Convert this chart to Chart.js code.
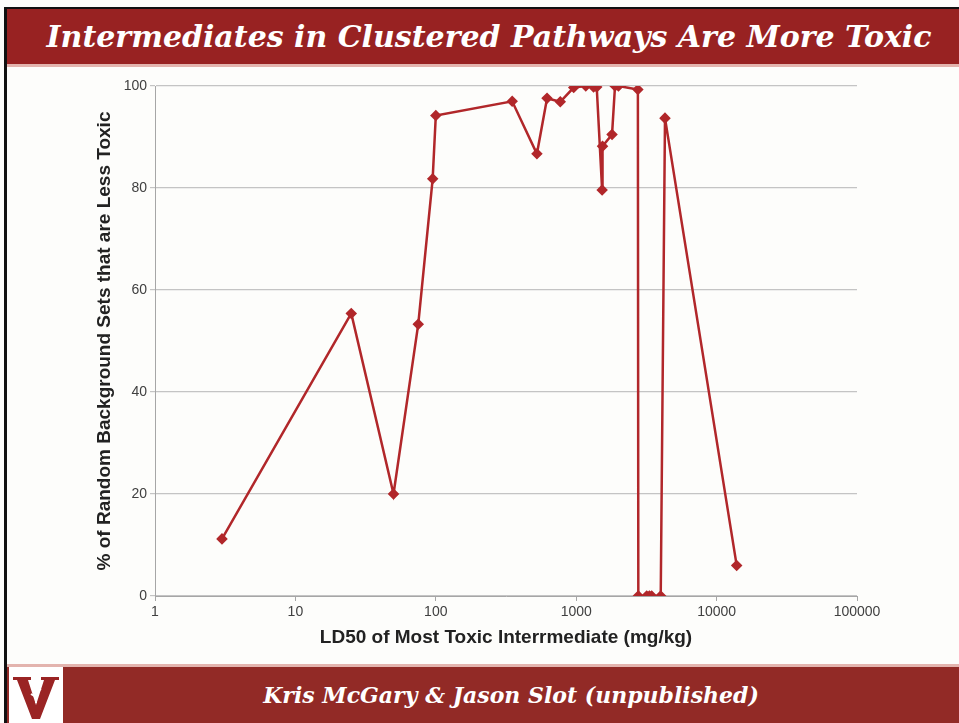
<!DOCTYPE html>
<html>
<head>
<meta charset="utf-8">
<script src="https://cdn.jsdelivr.net/npm/chart.js@4/dist/chart.umd.min.js"></script>
<style>
  html, body { margin: 0; padding: 0; background: #fdfdfb; }
  #page { position: relative; width: 959px; height: 723px; overflow: hidden; background: #fdfdfb; }
  #topline { position: absolute; left: 4px; top: 7px; width: 955px; height: 2px; background: #111; }
  #leftline { position: absolute; left: 4px; top: 7px; width: 3px; height: 716px; background: #111; }
  #titlebar { position: absolute; left: 7px; top: 9px; width: 952px; height: 55px; background: #982222;
    border-bottom: 3px solid #e3b4ae; }
  #titlebar h1 { margin: 0; padding-left: 12px; color: #fff; font-family: "DejaVu Serif", serif; font-weight: bold; font-style: italic;
    font-size: 30px; line-height: 55px; text-align: center; white-space: nowrap; }
  #footbar { position: absolute; left: 7px; top: 664px; width: 952px; height: 59px; border-top: 3px solid #e3b4ae;
    background: #922a26; box-sizing: border-box; }
  #footbar p { position: absolute; left: 56px; right: 0; top: 0; margin: 0; color: #fff; font-family: "DejaVu Serif", serif;
    font-weight: bold; font-style: italic; font-size: 22px; line-height: 56px; text-align: center; white-space: nowrap; }
  #logo { position: absolute; left: 2px; top: 0; width: 54px; height: 56px; background: #fff; }
  #chartbox { position: absolute; left: 0; top: 67px; width: 959px; height: 597px; }
</style>
</head>
<body>
<div id="page">
  <div id="titlebar"><h1>Intermediates in Clustered Pathways Are More Toxic</h1></div>
  <div id="footbar">
    <div id="logo">
      <svg width="54" height="56" viewBox="0 0 54 56">
        <polygon points="4,10 22,10 22,13 19,13 27,38 35,13 32,13 32,10 50,10 50,13 46,13 31,52 23,52 8,13 4,13" fill="#9a2424"/>
        <path d="M27,16 L27,36 M27,21 L22,18 M27,25 L32,22 M27,30 L22,27" stroke="#fff" stroke-width="2" fill="none"/>
      </svg>
    </div>
    <p>Kris McGary &amp; Jason Slot (unpublished)</p>
  </div>
  <div id="leftline"></div>
  <div id="topline"></div>
  <div id="chartbox"><canvas id="chart" width="959" height="597"></canvas></div>
</div>
<script>
// LD50 of the most toxic intermediate (mg/kg), in plotted order
const ld50 = [3, 25, 50, 75, 95, 100, 350, 525, 620, 770, 960, 1170, 1330, 1400,
              1530, 1540, 1800, 1890, 2000, 2750, 2770, 3180, 3320, 3450, 4000, 4290, 13900];
// % of random background sets that are less toxic
const pctLessToxic = [11.2, 55.4, 20.0, 53.3, 81.8, 94.2, 97.0, 86.7, 97.6, 96.9, 99.7, 100, 99.8, 99.8,
                      79.6, 88.2, 90.5, 100, 100, 99.3, 0, 0, 0, 0, 0, 93.7, 6.0];
const xTickValues = [1, 10, 100, 1000, 10000, 100000];
const yTickValues = [0, 20, 40, 60, 80, 100];

const points = ld50.map((x, i) => ({ x: x, y: pctLessToxic[i] }));
const red = '#b1272a';
const tickFont = { family: '"Liberation Sans", Arial, sans-serif', size: 14 };
const titleFont = { family: '"Liberation Sans", Arial, sans-serif', size: 19, weight: 'bold' };

new Chart(document.getElementById('chart'), {
  type: 'scatter',
  data: {
    datasets: [{
      data: points,
      showLine: true,
      borderColor: red,
      backgroundColor: red,
      borderWidth: 2.5,
      pointStyle: 'rectRot',
      pointRadius: 4,
      pointHoverRadius: 4,
      tension: 0
    }]
  },
  options: {
    responsive: false,
    animation: false,
    layout: { padding: { top: 19, right: 102, bottom: 15, left: 90 } },
    plugins: { legend: { display: false }, tooltip: { enabled: false } },
    scales: {
      x: {
        type: 'logarithmic',
        min: 1,
        max: 100000,
        afterBuildTicks: (scale) => { scale.ticks = xTickValues.map(v => ({ value: v })); },
        afterFit: (scale) => { scale.height = 53; },
        ticks: { font: tickFont, color: '#404040', padding: 3, maxRotation: 0, autoSkip: false,
                 callback: (v) => String(v) },
        grid: { drawOnChartArea: false, drawTicks: true, tickLength: 5, color: '#a6a6a6' },
        border: { display: true, color: '#a6a6a6', width: 1 },
        title: { display: true, text: 'LD50 of Most Toxic Interrmediate (mg/kg)', font: titleFont,
                 color: '#222', padding: { top: 0, bottom: 0 } }
      },
      y: {
        min: 0,
        max: 100,
        afterBuildTicks: (scale) => { scale.ticks = yTickValues.map(v => ({ value: v })); },
        afterFit: (scale) => { scale.width = 65; },
        ticks: { font: tickFont, color: '#404040', padding: 3 },
        grid: { color: '#c4c4c4', lineWidth: 1.2, drawTicks: true, tickLength: 5 },
        border: { display: true, color: '#a6a6a6', width: 1 },
        title: { display: true, text: '% of Random Background Sets that are Less Toxic', font: titleFont,
                 color: '#222', padding: { top: 3, bottom: 0 } }
      }
    }
  }
});
</script>
</body>
</html>
